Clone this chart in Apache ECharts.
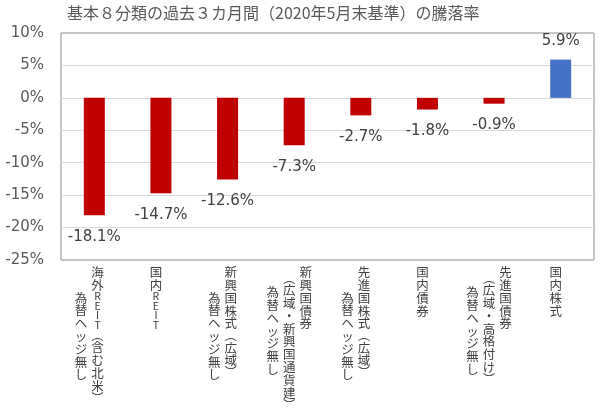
<!DOCTYPE html>
<html>
<head>
    <meta charset="utf-8">
    <title>基本８分類の過去３カ月間の騰落率</title>
    <script src="https://cdn.jsdelivr.net/npm/echarts@6.0.0/dist/echarts.min.js"></script>
</head>
<body style="margin:0">

<div id="main" style="width:600px;height:411px;"></div>

<script type="text/javascript">
    // 分類名（改行ごとに縦書きの1列）
    var categories = [
        '海外REIT（含む北米）\n為替ヘッジ無し',
        '国内REIT',
        '新興国株式（広域）\n為替ヘッジ無し',
        '新興国債券\n（広域・新興国通貨建）\n為替ヘッジ無し',
        '先進国株式（広域）\n為替ヘッジ無し',
        '国内債券',
        '先進国債券\n（広域・高格付け）\n為替ヘッジ無し',
        '国内株式'
    ];
    // 騰落率(%)
    var values = [-18.1, -14.7, -12.6, -7.3, -2.7, -1.8, -0.9, 5.9];
    // y軸目盛
    var yTicks = [-25, -20, -15, -10, -5, 0, 5, 10];

    var cjk = '"Noto Sans CJK JP", sans-serif';
    var num = '"DejaVu Sans", sans-serif';
    var textColor = '#404040';

    // 縦書きラベルの列配置
    var colStep = 16.5, colShift = -5;
    var colDrop = {1: [0], 2: [0, 30], 3: [0, 11, 20]};
    var kinds = {
        c: {fontSize: 12.5, lineHeight: 12.8},
        l: {fontSize: 10.5, lineHeight: 9.5},
        p: {fontSize: 12, lineHeight: 11.5}
    };

    function charKind(ch) {
        if (/[A-Za-z]/.test(ch)) return 'l';
        if (ch === '（' || ch === '）') return 'p';
        return 'c';
    }

    function colText(k) {
        return function (value, idx) {
            var cols = categories[idx].split('\n');
            if (k >= cols.length) return '';
            var s = cols[k], out = [];
            for (var j = 0; j < s.length; j++) {
                var ch = s[j];
                var t = charKind(ch);
                var disp = ch === '（' ? '︵' : (ch === '）' ? '︶' : ch);
                out.push('{' + t + (j === 0 ? 'f' : '') + idx + '|' + disp + '}');
            }
            return out.join('\n');
        };
    }

    function colRich(k) {
        var rich = {};
        categories.forEach(function (c, idx) {
            var n = c.split('\n').length;
            if (k >= n) return;
            var dx = colShift + ((n - 1) / 2 - k) * colStep;
            var dy = colDrop[n][k];
            var pl = dx > 0 ? 2 * dx : 0, pr = dx < 0 ? -2 * dx : 0;
            for (var t in kinds) {
                rich[t + idx] = {
                    fontFamily: cjk, color: textColor,
                    fontSize: kinds[t].fontSize, lineHeight: kinds[t].lineHeight,
                    padding: [0, pr, 0, pl]
                };
                rich[t + 'f' + idx] = {
                    fontFamily: cjk, color: textColor,
                    fontSize: kinds[t].fontSize, lineHeight: kinds[t].lineHeight + dy,
                    padding: [dy, pr, 0, pl]
                };
            }
        });
        return rich;
    }

    var gridBox = {left: 61, right: 6, top: 33, bottom: 151};
    var grids = [Object.assign({show: true, borderColor: '#8c8c8c', borderWidth: 1}, gridBox)];
    var xAxes = [{
        type: 'category', gridIndex: 0, data: categories,
        axisLine: {show: false}, axisTick: {show: false},
        axisLabel: {show: false}, splitLine: {show: false}
    }];
    var yAxes = [{
        type: 'value', gridIndex: 0,
        min: yTicks[0], max: yTicks[yTicks.length - 1], interval: yTicks[1] - yTicks[0],
        axisLine: {show: false}, axisTick: {show: false},
        axisLabel: {formatter: '{value}%', margin: 17, fontFamily: num, fontSize: 15, color: '#595959'},
        splitLine: {show: true, showMinLine: false, showMaxLine: false, lineStyle: {color: '#d9d9d9'}}
    }];
    for (var k = 0; k < 3; k++) {
        grids.push(Object.assign({}, gridBox));
        xAxes.push({
            type: 'category', gridIndex: k + 1, data: categories,
            axisLine: {show: false}, axisTick: {show: false}, splitLine: {show: false},
            axisLabel: {
                interval: 0, margin: 6, fontFamily: cjk, fontSize: 12.5, color: textColor,
                formatter: colText(k), rich: colRich(k)
            }
        });
        yAxes.push({type: 'value', gridIndex: k + 1, show: false, min: 0, max: 1});
    }

    var myChart = echarts.init(document.getElementById('main'));
    myChart.setOption({
        animation: false,
        title: {
            text: '基本８分類の過去３カ月間（2020年5月末基準）の騰落率',
            left: 67, top: 5, padding: 0,
            textStyle: {fontFamily: cjk, fontSize: 16, fontWeight: 'normal', color: '#595959'}
        },
        grid: grids,
        xAxis: xAxes,
        yAxis: yAxes,
        series: [{
            type: 'bar',
            xAxisIndex: 0,
            yAxisIndex: 0,
            barWidth: 21,
            data: values.map(function (v) {
                return {
                    value: v,
                    itemStyle: {color: v < 0 ? '#C00000' : '#4472C4'},
                    label: {position: v < 0 ? 'bottom' : 'top', distance: v < 0 ? 14 : 11}
                };
            }),
            label: {
                show: true,
                fontFamily: num, fontSize: 15, color: textColor,
                formatter: function (p) { return p.value.toFixed(1) + '%'; }
            }
        }]
    });
</script>
</body>
</html>
